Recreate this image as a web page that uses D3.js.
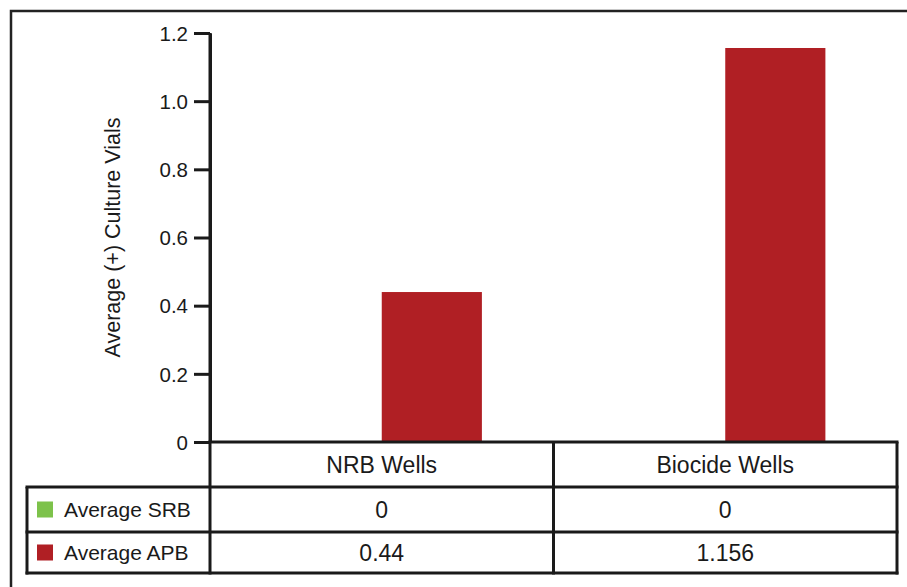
<!DOCTYPE html>
<html>
<head>
<meta charset="utf-8">
<script src="https://cdn.jsdelivr.net/npm/d3@7"></script>
<style>
  html, body { margin: 0; padding: 0; background: #fff; }
  svg { display: block; font-family: "Liberation Sans", Arial, Helvetica, sans-serif; }
</style>
</head>
<body>
<svg id="chart" width="907" height="587"></svg>
<script>
// Categories, series and values
const categories = ["NRB Wells", "Biocide Wells"];
const seriesNames = ["Average SRB", "Average APB"];
const srbValues = [0, 0];
const apbValues = [0.44, 1.156];
const tableLabels = [["0", "0"], ["0.44", "1.156"]];
const yTicks = [0, 0.2, 0.4, 0.6, 0.8, 1.0, 1.2];
const seriesColors = ["#7dc24b", "#b01f24"];

const seriesValues = [srbValues, apbValues];

const svg = d3.select("#chart");
const ink = "#1a1a1a";

// Plot geometry
const plotLeft = 210, plotRight = 897, plotTop = 33, baseY = 442;
const rowBottoms = [487, 532, 573];
const tableLeft = 27;

const y = d3.scaleLinear().domain([0, 1.2]).range([baseY, plotTop]);
const x0 = d3.scaleBand().domain(categories).range([plotLeft, plotRight]).padding(0);
const x1 = d3.scaleBand().domain(seriesNames).range([0, x0.bandwidth()])
  .paddingInner(0).paddingOuter(0.715);

// Outer frame (top and left edges)
svg.append("path")
  .attr("d", "M11,587 L11,11 L907,11")
  .attr("fill", "none").attr("stroke", "#222").attr("stroke-width", 2.5);

// Bars
const groups = svg.append("g").selectAll("g")
  .data(categories).join("g")
  .attr("transform", d => `translate(${x0(d)},0)`);

groups.selectAll("rect")
  .data((c, ci) => seriesNames.map((s, si) => ({ s, v: seriesValues[si][ci], color: seriesColors[si] })))
  .join("rect")
  .attr("x", d => x1(d.s))
  .attr("width", x1.bandwidth())
  .attr("y", d => y(d.v))
  .attr("height", d => baseY - y(d.v))
  .attr("fill", d => d.color);

// Y axis
const yAxis = d3.axisLeft(y)
  .tickValues(yTicks)
  .tickFormat(d => d === 0 ? "0" : d3.format(".1f")(d))
  .tickSize(16)
  .tickSizeOuter(0)
  .tickPadding(6);

const ay = svg.append("g")
  .attr("transform", `translate(${plotLeft},0)`)
  .call(yAxis);
ay.select(".domain").attr("stroke", ink).attr("stroke-width", 3);
ay.selectAll(".tick line").attr("stroke", ink).attr("stroke-width", 3);
ay.selectAll(".tick text")
  .attr("fill", ink)
  .style("font-size", "20.5px")
  .attr("dy", "0.35em");

// Y axis title
svg.append("text")
  .attr("transform", `translate(120,${(plotTop + baseY) / 2}) rotate(-90)`)
  .attr("text-anchor", "middle")
  .attr("fill", ink)
  .style("font-size", "21.5px")
  .text("Average (+) Culture Vials");

// Data table grid
const grid = svg.append("g").attr("stroke", ink).attr("stroke-width", 3).attr("fill", "none");
// header row
grid.append("line").attr("x1", plotLeft - 1.5).attr("x2", plotRight + 1.5).attr("y1", baseY).attr("y2", baseY);
// series rows
rowBottoms.forEach((yy) => {
  grid.append("line")
    .attr("x1", tableLeft - 1.5)
    .attr("x2", plotRight + 1.5)
    .attr("y1", yy).attr("y2", yy);
});
// vertical lines
grid.append("line").attr("x1", tableLeft).attr("x2", tableLeft).attr("y1", rowBottoms[0]).attr("y2", rowBottoms[2] + 1.5);
grid.append("line").attr("x1", plotLeft).attr("x2", plotLeft).attr("y1", plotTop).attr("y2", rowBottoms[2] + 1.5);
categories.forEach((c) => {
  const xe = x0(c) + x0.bandwidth();
  grid.append("line").attr("x1", xe).attr("x2", xe).attr("y1", baseY).attr("y2", rowBottoms[2] + 1.5);
});

// Header labels
svg.append("g").selectAll("text")
  .data(categories).join("text")
  .attr("x", d => x0(d) + x0.bandwidth() / 2)
  .attr("y", (baseY + rowBottoms[0]) / 2)
  .attr("dy", "0.35em")
  .attr("text-anchor", "middle")
  .attr("fill", ink)
  .style("font-size", "23px")
  .text(d => d);

// Series rows: legend swatch, name and values
seriesNames.forEach((s, si) => {
  const yTop = rowBottoms[si], yBot = rowBottoms[si + 1];
  const cy = (yTop + yBot) / 2;
  svg.append("rect")
    .attr("x", 37).attr("y", cy - 8)
    .attr("width", 16).attr("height", 16)
    .attr("fill", seriesColors[si]);
  svg.append("text")
    .attr("x", 64).attr("y", cy).attr("dy", "0.35em")
    .attr("fill", ink)
    .style("font-size", "21px")
    .text(s);
  categories.forEach((c, ci) => {
    svg.append("text")
      .attr("x", x0(c) + x0.bandwidth() / 2)
      .attr("y", cy).attr("dy", "0.35em")
      .attr("text-anchor", "middle")
      .attr("fill", ink)
      .style("font-size", "23px")
      .text(tableLabels[si][ci]);
  });
});
</script>
</body>
</html>
